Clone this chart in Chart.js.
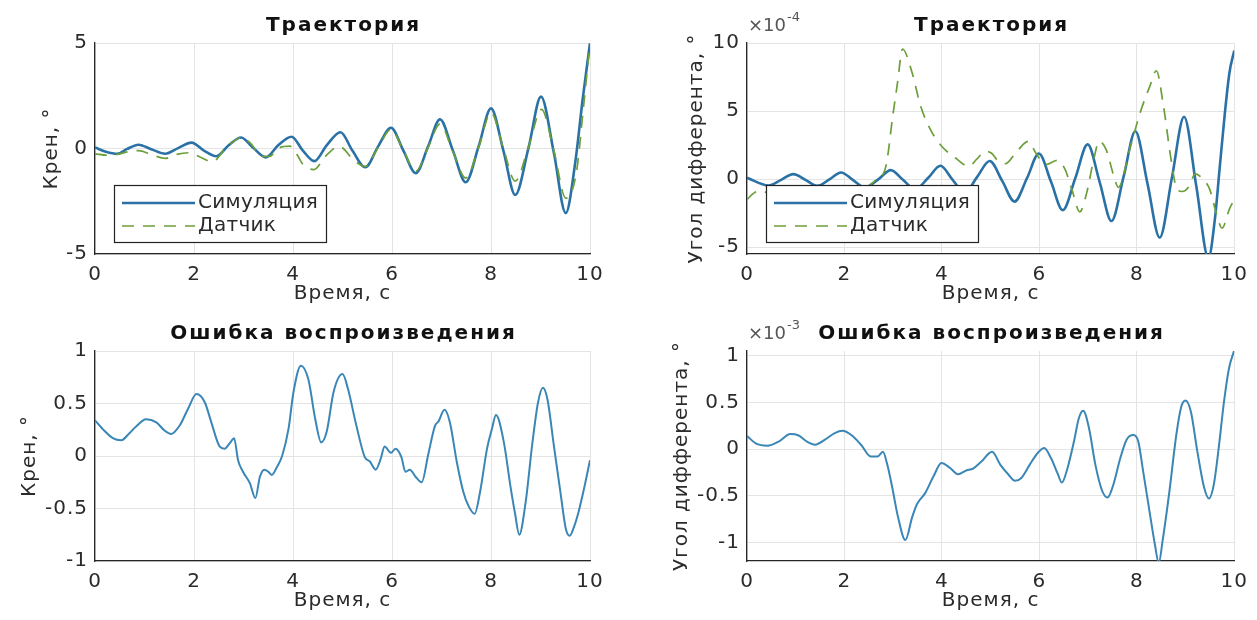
<!DOCTYPE html>
<html lang="ru">
<head>
<meta charset="utf-8">
<title>Траектория и ошибка воспроизведения</title>
<script src="https://cdn.jsdelivr.net/npm/chart.js@4.4.1/dist/chart.umd.min.js"></script>
<style>
  html, body { margin: 0; padding: 0; background: #fff; }
  #page { position: relative; width: 1257px; height: 620px; overflow: hidden; background: #fff; }
  canvas { position: absolute; }
</style>
</head>
<body>
<div id="page">
  <canvas id="rollChart" width="620" height="310" style="left:0;top:0"></canvas>
  <canvas id="pitchChart" width="637" height="310" style="left:620px;top:0"></canvas>
  <canvas id="rollErrChart" width="620" height="310" style="left:0;top:310px"></canvas>
  <canvas id="pitchErrChart" width="637" height="310" style="left:620px;top:310px"></canvas>
</div>
<script>
// Подписи
const seriesNames = ['Симуляция', 'Датчик'];
const xTitle = 'Время, с';
const xTicks = [0, 2, 4, 6, 8, 10];
const rollTicks = [-5, 0, 5];
const pitchTicks = [-5, 0, 5, 10];
const errTicks = [-1, -0.5, 0, 0.5, 1];

// Крен: симуляция и датчик, градусы
const rollSimT = [0, 0.22, 0.45, 0.65, 0.88, 1.15, 1.42, 1.68, 1.95, 2.2, 2.45, 2.7, 2.95, 3.2, 3.45, 3.7, 3.97, 4.2, 4.43, 4.68, 4.96,
  5.2, 5.46, 5.72, 5.98, 6.23, 6.48, 6.73, 6.97, 7.23, 7.49, 7.75, 8.0, 8.25, 8.49, 8.76, 9.01, 9.27, 9.51, 9.7, 9.85, 10];
const rollSim = [0.05, -0.15, -0.25, -0.02, 0.18, -0.05, -0.25, 0.02, 0.28, -0.1, -0.37, 0.15, 0.52, 0.02, -0.42, 0.15, 0.56, -0.1, -0.6, 0.15, 0.77,
  -0.1, -0.89, 0.1, 0.98, -0.1, -1.17, 0.1, 1.38, -0.1, -1.6, 0.1, 1.9, -0.1, -2.2, 0.05, 2.46, -0.2, -3.06, -0.7, 2.3, 5.0];
const rollSenT = [0, 0.25, 0.45, 0.65, 0.88, 1.15, 1.42, 1.65, 1.9, 2.12, 2.37, 2.65, 2.97, 3.12, 3.38, 3.52, 3.72, 3.94, 4.08, 4.2, 4.42,
  4.66, 4.93, 5.25, 5.46, 5.72, 5.98, 6.23, 6.48, 6.73, 6.97, 7.23, 7.49, 7.75, 8.0, 8.25, 8.49, 8.76, 9.02, 9.27, 9.51, 9.72, 9.87, 10];
const rollSen = [-0.25, -0.32, -0.28, -0.16, -0.1, -0.3, -0.47, -0.28, -0.2, -0.4, -0.63, 0.05, 0.52, 0.3, -0.36, -0.38, 0.03, 0.11, -0.28, -0.75, -1.0,
  -0.36, 0.1, -0.6, -0.85, 0.05, 0.9, -0.1, -1.08, 0.05, 1.17, -0.15, -1.4, 0.05, 1.7, 0.0, -1.55, 0.1, 1.85, -0.1, -2.35, -1.2, 2.0, 5.0];

// Угол дифферента: симуляция и датчик, x1e-4 градуса
const pitchExp = -4;
const pitchSimT = [0, 0.44, 0.7, 0.95, 1.2, 1.44, 1.7, 1.93, 2.17, 2.42, 2.7, 2.95, 3.2, 3.45, 3.72, 3.97, 4.22, 4.47, 4.72, 4.98,
  5.24, 5.49, 5.75, 5.99, 6.24, 6.48, 6.74, 6.99, 7.24, 7.48, 7.73, 7.97, 8.22, 8.47, 8.72, 8.97, 9.22, 9.47, 9.6, 9.7, 9.8, 9.9, 10];
const pitchSim = [0.1, -0.47, -0.05, 0.37, -0.05, -0.49, 0, 0.49, -0.05, -0.62, 0, 0.66, -0.05, -0.75, 0.1, 0.98, -0.05, -1.0, 0.15, 1.33,
  -0.15, -1.65, 0.1, 1.88, -0.2, -2.28, 0.1, 2.55, -0.25, -3.08, 0.2, 3.52, -0.35, -4.3, 0.1, 4.58, -0.5, -5.8, -3.0, 0.8, 4.6, 7.8, 9.45];
const pitchSenT = [0, 0.14, 0.27, 0.6, 1.2, 1.8, 2.3, 2.48, 2.65, 2.85, 2.99, 3.09, 3.19, 3.39, 3.56, 3.77, 4.0, 4.28, 4.55, 4.72,
  4.89, 5.02, 5.13, 5.3, 5.53, 5.77, 5.93, 6.13, 6.37, 6.53, 6.67, 6.83, 6.97, 7.1, 7.23, 7.37, 7.53, 7.62, 7.87, 8.07,
  8.27, 8.4, 8.55, 8.7, 8.82, 8.93, 9.07, 9.2, 9.37, 9.5, 9.63, 9.75, 9.9, 10];
const pitchSen = [-1.5, -1.03, -0.86, -1.3, -1.5, -1.4, -1.1, -0.55, -0.05, 0.94, 4.6, 7.1, 9.56, 7.8, 5.4, 3.6, 2.4, 1.55, 0.94, 1.48,
  2.04, 1.9, 1.43, 1.13, 2.0, 2.78, 1.9, 1.06, 1.38, 0.69, -0.79, -2.4, -1.03, 1.18, 2.78, 2.17, 0.2, -0.6, 2.4, 4.9,
  6.85, 7.96, 5.3, 1.5, -0.7, -0.91, -0.54, 0.39, -0.05, -0.79, -2.5, -3.6, -2.2, -1.5];

// Ошибка воспроизведения крена, градусы
const rollErrT = [0, 0.19, 0.36, 0.53, 0.7, 0.83, 1.03, 1.24, 1.41, 1.54, 1.71, 1.88, 2.05, 2.22, 2.35, 2.52, 2.62, 2.72, 2.81, 2.89,
  2.99, 3.13, 3.24, 3.33, 3.42, 3.5, 3.57, 3.67, 3.78, 3.91, 4.01, 4.16, 4.31, 4.45, 4.57, 4.68, 4.82, 5.0, 5.11, 5.28,
  5.45, 5.55, 5.67, 5.77, 5.85, 5.98, 6.07, 6.19, 6.27, 6.36, 6.48, 6.6, 6.73, 6.87, 6.94, 7.06, 7.17, 7.31, 7.44, 7.55,
  7.67, 7.78, 7.92, 8.02, 8.1, 8.26, 8.39, 8.49, 8.57, 8.7, 8.83, 8.95, 9.05, 9.14, 9.27, 9.41, 9.51, 9.59, 9.68, 9.77, 9.88, 10];
const rollErr = [0.34, 0.24, 0.17, 0.15, 0.22, 0.28, 0.35, 0.32, 0.24, 0.21, 0.29, 0.45, 0.59, 0.51, 0.32, 0.09, 0.07, 0.12, 0.17, -0.04,
  -0.15, -0.26, -0.4, -0.2, -0.13, -0.15, -0.18, -0.11, 0.0, 0.26, 0.61, 0.86, 0.73, 0.35, 0.13, 0.23, 0.61, 0.78, 0.64, 0.29,
  -0.01, -0.05, -0.13, -0.03, 0.09, 0.03, 0.07, -0.01, -0.15, -0.13, -0.2, -0.25, 0.01, 0.29, 0.33, 0.44, 0.32, -0.06, -0.34, -0.48,
  -0.55, -0.34, 0.07, 0.26, 0.39, 0.13, -0.28, -0.56, -0.75, -0.44, 0.1, 0.51, 0.65, 0.54, 0.1, -0.37, -0.69, -0.76, -0.67, -0.53, -0.31, -0.04];

// Ошибка воспроизведения дифферента, x1e-3 градуса
const pitchErrExp = -3;
const pitchErrT = [0, 0.18, 0.42, 0.65, 0.89, 1.06, 1.23, 1.4, 1.6, 1.8, 1.96, 2.14, 2.34, 2.54, 2.68, 2.79, 2.88, 2.98, 3.1, 3.25,
  3.39, 3.49, 3.66, 3.83, 3.99, 4.16, 4.33, 4.5, 4.64, 4.8, 5.03, 5.2, 5.36, 5.5, 5.63, 5.8, 5.97, 6.1, 6.24, 6.38,
  6.46, 6.58, 6.71, 6.81, 6.9, 7.02, 7.15, 7.29, 7.4, 7.52, 7.66, 7.79, 7.93, 8.03, 8.13, 8.27, 8.37, 8.45, 8.53, 8.67,
  8.81, 8.91, 9.0, 9.11, 9.24, 9.38, 9.48, 9.58, 9.68, 9.79, 9.89, 10];
const pitchErr = [0.14, 0.06, 0.035, 0.08, 0.16, 0.145, 0.08, 0.046, 0.1, 0.17, 0.195, 0.15, 0.046, -0.08, -0.08, -0.03, -0.17, -0.41, -0.73, -0.975,
  -0.73, -0.59, -0.47, -0.29, -0.15, -0.2, -0.27, -0.23, -0.21, -0.14, -0.03, -0.17, -0.27, -0.34, -0.31, -0.17, -0.04, 0.01, -0.1, -0.27,
  -0.36, -0.2, 0.08, 0.33, 0.41, 0.22, -0.17, -0.45, -0.52, -0.38, -0.1, 0.1, 0.15, 0.08, -0.24, -0.7, -1.02, -1.22, -0.98, -0.45,
  0.15, 0.45, 0.52, 0.4, -0.02, -0.41, -0.53, -0.38, 0.01, 0.51, 0.86, 1.06];

const FONT = '"DejaVu Sans", sans-serif';
const FONT_SIZE = 20;
const TEXT = '#2b2b2b';
const SIM_COLOR = '#2a72a6';
const SEN_COLOR = '#6c9f3a';
const ERR_COLOR = '#3a86b6';

const toXY = (ts, vs) => ts.map((t, i) => ({ x: t, y: vs[i] }));

// немного разрядки, как в исходной картинке
const spacingPlugin = {
    id: 'spacing',
    beforeLayout(chart) { chart.ctx.letterSpacing = '1px'; },
    beforeDraw(chart) { chart.ctx.letterSpacing = '1px'; }
};

// заголовок, множитель оси и легенда внутри области графика
const decorPlugin = {
    id: 'decor',
    afterDatasetsDraw(chart, args, opts) {
        const { ctx, chartArea: a } = chart;
        ctx.save();
        ctx.fillStyle = '#111';
        ctx.font = 'bold 20px ' + FONT;
        ctx.letterSpacing = '2px';
        ctx.textAlign = 'center';
        ctx.textBaseline = 'middle';
        ctx.fillText(opts.title, (a.left + a.right) / 2 + 1, a.top - 17);

        if (opts.exponent !== undefined) {
            ctx.letterSpacing = '0px';
            ctx.fillStyle = '#555';
            ctx.textAlign = 'left';
            ctx.font = '18px ' + FONT;
            ctx.fillText('×10', a.left + 1, a.top - 17);
            const w = ctx.measureText('×10').width;
            ctx.font = '13px ' + FONT;
            ctx.fillText(String(opts.exponent), a.left + 2 + w, a.top - 25);
        }

        if (opts.legend) {
            const bx = a.left + 19, by = a.top + 142, bw = 212, bh = 57;
            ctx.fillStyle = '#fff';
            ctx.fillRect(bx, by, bw, bh);
            ctx.strokeStyle = '#222';
            ctx.lineWidth = 1.2;
            ctx.strokeRect(bx + 0.5, by + 0.5, bw, bh);
            ctx.letterSpacing = '0.3px';
            ctx.font = FONT_SIZE + 'px ' + FONT;
            ctx.textAlign = 'left';
            ctx.textBaseline = 'middle';
            chart.data.datasets.forEach((ds, i) => {
                const cy = by + 18 + i * 23;
                ctx.strokeStyle = ds.borderColor;
                ctx.lineWidth = ds.borderWidth;
                ctx.setLineDash(ds.borderDash || []);
                ctx.beginPath();
                ctx.moveTo(bx + 8, cy);
                ctx.lineTo(bx + 81, cy);
                ctx.stroke();
                ctx.setLineDash([]);
                ctx.fillStyle = TEXT;
                ctx.fillText(ds.label, bx + 84, cy);
            });
        }
        ctx.restore();
    }
};

function makeChart(id, cfg) {
    const canvas = document.getElementById(id);
    const f = cfg.frame;
    return new Chart(canvas.getContext('2d'), {
        type: 'line',
        data: { datasets: cfg.datasets },
        plugins: [spacingPlugin, decorPlugin],
        options: {
            responsive: false,
            devicePixelRatio: 1,
            animation: false,
            events: [],
            layout: { padding: { left: 0, top: f.top, right: canvas.width - f.right, bottom: 0 } },
            elements: { point: { radius: 0 } },
            scales: {
                x: {
                    type: 'linear',
                    min: 0,
                    max: 10,
                    afterBuildTicks: s => { s.ticks = xTicks.map(v => ({ value: v })); },
                    afterFit: s => { s.height = canvas.height - f.bottom; },
                    grid: { color: '#e4e4e4', drawTicks: false },
                    border: { color: '#262626', width: 1.3 },
                    ticks: { color: TEXT, padding: 9, maxRotation: 0, font: { family: FONT, size: FONT_SIZE } },
                    title: {
                        display: true, text: xTitle, color: TEXT,
                        font: { family: FONT, size: FONT_SIZE },
                        padding: { top: 0, bottom: f.xTitlePad }
                    }
                },
                y: {
                    type: 'linear',
                    min: cfg.yMin,
                    max: cfg.yMax,
                    afterBuildTicks: s => { s.ticks = cfg.yTicks.map(v => ({ value: v })); },
                    afterFit: s => { s.width = f.left; },
                    grid: { color: '#e4e4e4', drawTicks: false },
                    border: { color: '#262626', width: 1.3 },
                    ticks: { color: TEXT, padding: 7, font: { family: FONT, size: FONT_SIZE }, callback: v => String(v) },
                    title: {
                        display: true, text: cfg.yTitle, color: TEXT,
                        font: { family: FONT, size: FONT_SIZE },
                        padding: { top: f.yTitlePad, bottom: 0 }
                    }
                }
            },
            plugins: {
                legend: { display: false },
                tooltip: { enabled: false },
                decor: { title: cfg.title, exponent: cfg.exponent, legend: cfg.legend }
            }
        }
    });
}

function trajectorySets(simT, sim, senT, sen) {
    return [
        { label: seriesNames[0], data: toXY(simT, sim), borderColor: SIM_COLOR, borderWidth: 2.6,
          cubicInterpolationMode: 'monotone', fill: false, order: 2 },
        { label: seriesNames[1], data: toXY(senT, sen), borderColor: SEN_COLOR, borderWidth: 1.7,
          borderDash: [12, 9], cubicInterpolationMode: 'monotone', fill: false, order: 1 }
    ];
}

function errorSet(t, v) {
    return [{ label: 'Ошибка', data: toXY(t, v), borderColor: ERR_COLOR, borderWidth: 2,
              cubicInterpolationMode: 'monotone', fill: false }];
}

makeChart('rollChart', {
    frame: { left: 95, right: 590, top: 43, bottom: 254, yTitlePad: 40, xTitlePad: 4 },
    yMin: -5, yMax: 5, yTicks: rollTicks, yTitle: 'Крен, °',
    title: 'Траектория', legend: true,
    datasets: trajectorySets(rollSimT, rollSim, rollSenT, rollSen)
});

makeChart('pitchChart', {
    frame: { left: 127, right: 621, top: 43, bottom: 254, yTitlePad: 65, xTitlePad: 4 },
    yMin: -5.5, yMax: 10, yTicks: pitchTicks, yTitle: 'Угол дифферента, °',
    title: 'Траектория', legend: true, exponent: pitchExp,
    datasets: trajectorySets(pitchSimT, pitchSim, pitchSenT, pitchSen)
});

makeChart('rollErrChart', {
    frame: { left: 95, right: 590, top: 41, bottom: 251, yTitlePad: 18, xTitlePad: 7 },
    yMin: -1, yMax: 1, yTicks: errTicks, yTitle: 'Крен, °',
    title: 'Ошибка воспроизведения',
    datasets: errorSet(rollErrT, rollErr)
});

makeChart('pitchErrChart', {
    frame: { left: 127, right: 621, top: 41, bottom: 251, yTitlePad: 50, xTitlePad: 7 },
    yMin: -1.2, yMax: 1.05, yTicks: errTicks, yTitle: 'Угол дифферента, °',
    title: 'Ошибка воспроизведения', exponent: pitchErrExp,
    datasets: errorSet(pitchErrT, pitchErr)
});
</script>
</body>
</html>
